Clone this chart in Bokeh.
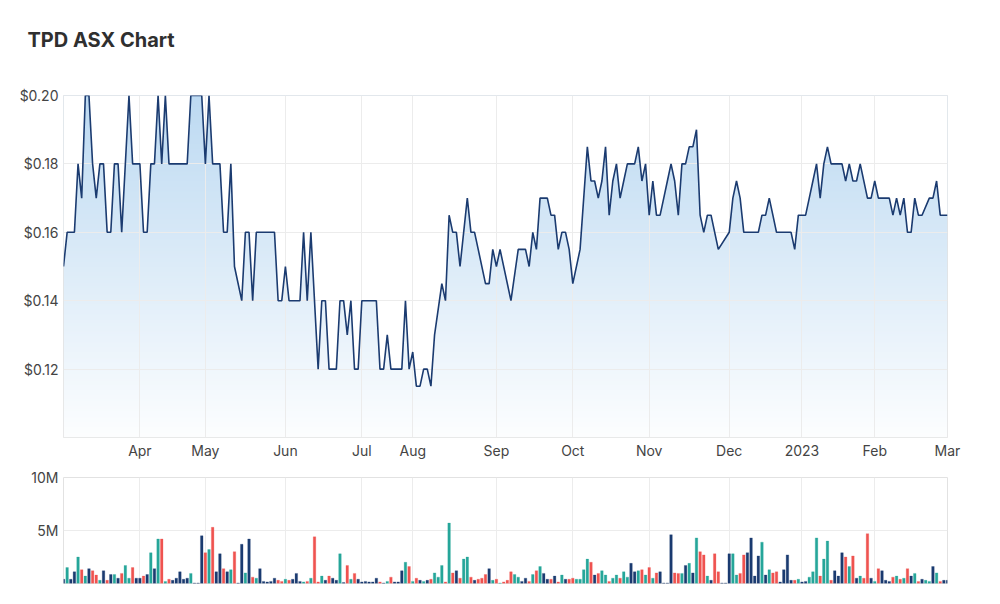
import numpy as np
from bokeh.plotting import figure
from bokeh.layouts import column
from bokeh.models import Range1d, FixedTicker, NumeralTickFormatter, ColumnDataSource
from bokeh.embed import file_html
from bokeh.resources import INLINE

# ---------------- data ----------------
title_text = "TPD ASX Chart"

# trading-day index of the first session of each month, and its label
month_day = [21, 39, 61, 82, 96, 119, 140, 161, 183, 203, 223, 243]
month_labels = ["Apr", "May", "Jun", "Jul", "Aug", "Sep", "Oct", "Nov", "Dec", "2023", "Feb", "Mar"]

price_ticks = [0.12, 0.14, 0.16, 0.18, 0.20]
price_min, price_max = 0.10, 0.20

# closing price at turning points (trading-day index, price)
price_day = [0, 1, 3, 4, 5, 6, 7, 8, 9, 10, 11, 12, 13, 14, 15, 16, 18, 19, 21, 22,
             23, 24, 25, 26, 27, 28, 29, 34, 35, 38, 39, 40, 41, 43, 44, 45, 46, 47, 49, 50,
             51, 52, 53, 58, 59, 60, 61, 62, 65, 66, 67, 68, 70, 71, 72, 73, 75, 76, 77, 78,
             79, 80, 81, 82, 86, 87, 88, 89, 90, 93, 94, 95, 96, 97, 98, 99, 100, 101, 102, 104,
             105, 106, 107, 108, 109, 111, 112, 113, 114, 116, 117, 118, 119, 120, 123, 125, 127, 128, 129, 130,
             131, 133, 134, 135, 136, 137, 138, 139, 140, 142, 144, 145, 146, 147, 148, 149, 150, 151, 152, 153,
             154, 155, 157, 158, 159, 160, 161, 162, 163, 164, 165, 166, 167, 168, 169, 170, 171, 172, 173, 174,
             175, 176, 177, 178, 180, 183, 184, 185, 186, 187, 191, 192, 193, 194, 195, 196, 200, 201, 202, 204,
             205, 206, 207, 208, 209, 210, 211, 214, 215, 216, 217, 218, 219, 221, 222, 223, 224, 227, 228, 229,
             230, 231, 232, 233, 234, 235, 236, 238, 239, 240, 241, 243]
price_close = [0.15, 0.16, 0.16, 0.18, 0.17, 0.20, 0.20, 0.18, 0.17, 0.18, 0.18, 0.16, 0.16, 0.18, 0.18, 0.16, 0.20, 0.18, 0.18, 0.16,
               0.16, 0.18, 0.18, 0.20, 0.18, 0.20, 0.18, 0.18, 0.20, 0.20, 0.18, 0.20, 0.18, 0.18, 0.16, 0.16, 0.18, 0.15, 0.14, 0.16,
               0.16, 0.14, 0.16, 0.16, 0.14, 0.14, 0.15, 0.14, 0.14, 0.16, 0.14, 0.16, 0.12, 0.14, 0.14, 0.12, 0.12, 0.14, 0.14, 0.13,
               0.14, 0.12, 0.12, 0.14, 0.14, 0.12, 0.12, 0.13, 0.12, 0.12, 0.14, 0.12, 0.125, 0.115, 0.115, 0.12, 0.12, 0.115, 0.13, 0.145,
               0.14, 0.165, 0.16, 0.16, 0.15, 0.17, 0.16, 0.16, 0.155, 0.145, 0.145, 0.155, 0.15, 0.155, 0.14, 0.155, 0.155, 0.15, 0.16, 0.155,
               0.17, 0.17, 0.165, 0.165, 0.155, 0.16, 0.16, 0.155, 0.145, 0.155, 0.185, 0.175, 0.175, 0.17, 0.175, 0.185, 0.165, 0.175, 0.18, 0.17,
               0.175, 0.18, 0.18, 0.185, 0.175, 0.18, 0.165, 0.175, 0.165, 0.165, 0.17, 0.175, 0.18, 0.175, 0.165, 0.18, 0.18, 0.185, 0.185, 0.19,
               0.165, 0.16, 0.165, 0.165, 0.155, 0.16, 0.17, 0.175, 0.17, 0.16, 0.16, 0.165, 0.165, 0.17, 0.165, 0.16, 0.16, 0.155, 0.165, 0.165,
               0.17, 0.175, 0.18, 0.17, 0.18, 0.185, 0.18, 0.18, 0.175, 0.18, 0.175, 0.175, 0.18, 0.17, 0.17, 0.175, 0.17, 0.17, 0.165, 0.17,
               0.165, 0.17, 0.16, 0.16, 0.17, 0.165, 0.165, 0.17, 0.17, 0.175, 0.165, 0.165]

# daily volume in millions, and session direction (u = up, d = down, n = unchanged)
volume_m = [0.4, 1.5, 0.4, 1.1, 2.5, 1.3, 0.7, 1.4, 1.2, 0.8,
            0.3, 1.2, 0.3, 0.85, 0.85, 0.5, 0.95, 1.7, 0.5, 1.5,
            0.5, 0.5, 0.7, 0.85, 2.9, 1.4, 4.2, 4.2, 0.2, 0.4,
            0.3, 0.5, 1.1, 0.4, 0.5, 0.95, 0.05, 0.05, 4.5, 2.9,
            3.2, 5.3, 1.1, 2.8, 1.4, 1.1, 1.3, 3.0, 0.05, 3.7,
            1.0, 4.2, 0.6, 0.5, 1.4, 0.2, 0.15, 0.2, 0.5, 0.3,
            0.2, 0.4, 0.3, 0.4, 0.95, 0.2, 0.15, 0.2, 0.5, 4.4,
            0.15, 0.7, 0.3, 0.7, 0.5, 0.3, 2.8, 0.1, 1.7, 0.4,
            0.95, 0.4, 0.15, 0.2, 0.15, 0.15, 0.5, 0.15, 0.05, 0.2,
            0.6, 0.15, 0.15, 1.2, 2.0, 1.6, 0.2, 0.5, 0.3, 0.2,
            0.3, 0.4, 1.0, 0.6, 1.7, 0.15, 5.7, 1.0, 1.2, 0.5,
            2.3, 2.5, 0.6, 0.3, 0.4, 0.5, 0.85, 1.4, 0.3, 0.4,
            0.05, 0.15, 0.3, 1.1, 0.85, 0.6, 0.2, 0.5, 0.2, 0.85,
            1.2, 1.6, 0.95, 0.4, 0.4, 0.7, 0.15, 0.8, 0.4, 0.4,
            0.5, 0.4, 0.4, 1.3, 2.3, 2.0, 0.8, 0.95, 1.2, 0.8,
            0.2, 0.5, 0.8, 0.5, 1.1, 0.6, 1.9, 1.1, 1.2, 1.3,
            0.8, 1.5, 0.5, 1.0, 1.1, 0.05, 0.05, 4.6, 1.0, 0.95,
            0.95, 1.7, 1.9, 1.0, 4.3, 3.0, 2.7, 0.7, 0.3, 2.8,
            1.1, 0.05, 0.05, 2.8, 2.8, 0.8, 0.95, 2.7, 2.9, 4.3,
            0.7, 2.6, 3.9, 0.8, 1.3, 1.0, 1.1, 0.15, 1.3, 2.7,
            0.3, 0.3, 0.4, 0.15, 0.2, 0.6, 1.1, 4.3, 0.7, 2.3,
            4.0, 0.3, 1.2, 0.7, 2.9, 2.5, 1.6, 2.6, 0.5, 0.7,
            0.5, 4.7, 0.5, 0.2, 1.4, 1.2, 0.3, 0.2, 0.6, 0.7,
            0.4, 0.5, 1.4, 0.7, 0.95, 0.2, 0.4, 0.3, 0.2, 1.6,
            1.0, 0.2, 0.3, 0.3]
volume_dir = ["n", "u", "n", "n", "u", "d", "u", "n", "d", "d",
              "u", "n", "d", "n", "u", "n", "d", "u", "u", "d",
              "n", "n", "d", "n", "u", "n", "u", "d", "u", "d",
              "n", "n", "n", "n", "n", "u", "n", "n", "n", "d",
              "u", "d", "n", "n", "d", "n", "u", "d", "n", "n",
              "u", "n", "d", "u", "n", "n", "n", "n", "n", "d",
              "d", "u", "d", "n", "n", "n", "u", "d", "u", "d",
              "d", "u", "n", "d", "n", "n", "u", "n", "d", "u",
              "d", "n", "n", "n", "n", "n", "n", "d", "n", "u",
              "d", "n", "n", "n", "u", "d", "u", "d", "n", "u",
              "n", "d", "u", "u", "u", "d", "u", "d", "n", "d",
              "u", "u", "d", "n", "d", "d", "d", "n", "u", "d",
              "u", "d", "d", "d", "u", "u", "n", "n", "d", "u",
              "d", "u", "n", "n", "d", "n", "d", "u", "n", "d",
              "d", "u", "u", "u", "u", "d", "n", "d", "u", "u",
              "d", "u", "u", "d", "u", "u", "n", "n", "u", "d",
              "u", "d", "u", "d", "n", "n", "n", "n", "d", "d",
              "u", "n", "u", "n", "u", "d", "d", "u", "n", "d",
              "d", "n", "n", "n", "u", "u", "d", "d", "n", "n",
              "n", "n", "u", "n", "u", "d", "d", "n", "n", "n",
              "n", "d", "u", "n", "n", "u", "u", "u", "d", "u",
              "u", "d", "n", "n", "n", "d", "u", "d", "n", "u",
              "d", "d", "n", "u", "d", "n", "n", "n", "d", "u",
              "d", "u", "d", "n", "u", "d", "n", "u", "u", "n",
              "u", "d", "n", "n"]
volume_ticks = [5, 10]
volume_tick_labels = ["5M", "10M"]

# ---------------- style ----------------
FONT = "Inter"
LABEL_COLOR = "#444444"
GRID_COLOR = "#ececec"
LINE_COLOR = "#1b3b70"
DIR_COLORS = {"u": "#26a69a", "d": "#ef5350", "n": "#1b3b70"}

FRAME_W, FRAME_H = 884, 342
BORDER_L, BORDER_R = 63, 53
TITLE_STANDOFF = 50
HEAD_H = TITLE_STANDOFF + 26 + 1      # title panel + 1px empty frame

x_lo, x_hi = price_day[0], price_day[-1]


def style_axis(ax, standoff):
    ax.axis_line_color = None
    ax.major_tick_line_color = None
    ax.minor_tick_line_color = None
    ax.major_tick_out = 0
    ax.major_tick_in = 0
    ax.minor_tick_out = 0
    ax.minor_tick_in = 0
    ax.axis_label_standoff = 0
    ax.major_label_text_font = FONT
    ax.major_label_text_font_size = "14px"
    ax.major_label_text_color = LABEL_COLOR
    ax.major_label_standoff = standoff


# ---------------- title strip (a plot whose only content is its title) ----------------
head = figure(frame_width=FRAME_W, frame_height=1,
              min_border_left=BORDER_L, min_border_right=BORDER_R, min_border_top=0, min_border_bottom=0,
              x_range=Range1d(x_lo, x_hi), y_range=Range1d(0, 1),
              output_backend="svg", toolbar_location=None, tools="", title=title_text)
head.axis.visible = False
head.grid.visible = False
head.outline_line_color = None
head.title.text_font = FONT
head.title.text_font_size = "20px"
head.title.text_font_style = "bold"
head.title.text_color = "#2f2f2f"
head.title.align = "left"
head.title.offset = -36
head.title.standoff = TITLE_STANDOFF

# ---------------- price chart ----------------
p1 = figure(frame_width=FRAME_W, frame_height=FRAME_H,
            min_border_left=BORDER_L, min_border_right=BORDER_R,
            min_border_top=95 - HEAD_H, min_border_bottom=25,
            x_range=head.x_range, y_range=Range1d(price_min, price_max),
            output_backend="svg", toolbar_location=None, tools="")

# vertical gradient under the price line
ny = 256
frac = np.linspace(0.0, 1.0, ny)[:, None]           # 0 = bottom, 1 = top
top_rgb = np.array([189, 218, 242])
bot_rgb = np.array([253, 254, 255])
rgb = (bot_rgb + (top_rgb - bot_rgb) * frac).astype(np.uint8)
img = np.empty((ny, 1), dtype=np.uint32)
view = img.view(dtype=np.uint8).reshape((ny, 1, 4))
view[:, 0, 0] = rgb[:, 0]
view[:, 0, 1] = rgb[:, 1]
view[:, 0, 2] = rgb[:, 2]
view[:, 0, 3] = 255
p1.image_rgba(image=[img], x=x_lo, y=price_min, dw=x_hi - x_lo, dh=price_max - price_min, level="image")
# white mask above the line
p1.varea(x=price_day, y1=price_close, y2=[price_max] * len(price_day), fill_color="white", level="image")
p1.line(x=price_day, y=price_close, line_color=LINE_COLOR, line_width=1.6)

p1.outline_line_color = "#e2e2e2"
for g in (p1.xgrid, p1.ygrid):
    g.grid_line_color = GRID_COLOR
    g.grid_line_width = 1

p1.xaxis.ticker = FixedTicker(ticks=month_day)
p1.xaxis.major_label_overrides = {d: lab for d, lab in zip(month_day, month_labels)}
p1.yaxis.ticker = FixedTicker(ticks=price_ticks)
p1.yaxis.formatter = NumeralTickFormatter(format="$0.00")
style_axis(p1.xaxis[0], 4)
style_axis(p1.yaxis[0], 5)

# ---------------- volume chart ----------------
vol_src = ColumnDataSource(dict(
    day=list(range(len(volume_m))),
    vol=volume_m,
    color=[DIR_COLORS[d] for d in volume_dir],
))
p2 = figure(frame_width=FRAME_W, frame_height=106,
            min_border_left=BORDER_L, min_border_right=BORDER_R, min_border_top=15, min_border_bottom=21,
            x_range=head.x_range, y_range=Range1d(0, volume_ticks[-1]),
            output_backend="svg", toolbar_location=None, tools="")
p2.vbar(x="day", top="vol", width=0.7, source=vol_src,
        fill_color="color", line_color="color", line_alpha=0.35, line_width=0.8)
p2.outline_line_color = "#e2e2e2"
for g in (p2.xgrid, p2.ygrid):
    g.grid_line_color = GRID_COLOR
    g.grid_line_width = 1
p2.xaxis.ticker = FixedTicker(ticks=month_day)
p2.xaxis.visible = False
p2.xgrid.ticker = FixedTicker(ticks=month_day)
p2.yaxis.ticker = FixedTicker(ticks=volume_ticks)
p2.yaxis.major_label_overrides = {t: lab for t, lab in zip(volume_ticks, volume_tick_labels)}
style_axis(p2.yaxis[0], 5)

layout = column(head, p1, p2, spacing=0)
open("out.html", "w").write(file_html(layout, INLINE))
